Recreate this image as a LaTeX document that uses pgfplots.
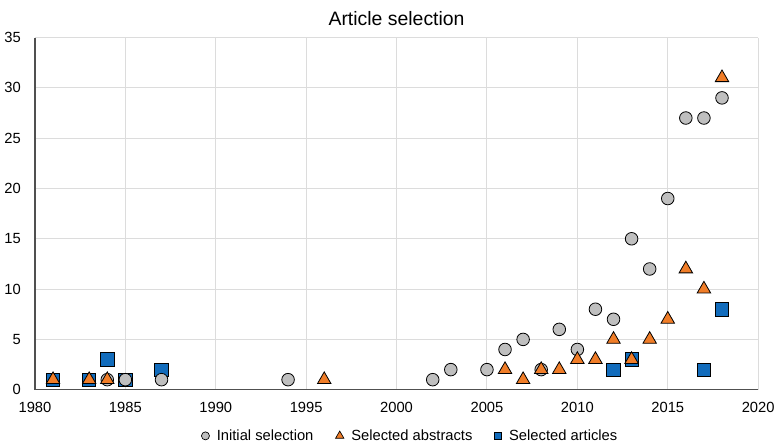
\documentclass[border=0pt]{standalone}
\usepackage{fontspec}
\setmainfont{Liberation Sans}
\usepackage{pgfplots}
\pgfplotsset{compat=1.18}

\definecolor{cinit}{RGB}{191,191,191}
\definecolor{cabs}{RGB}{240,125,40}
\definecolor{cart}{RGB}{18,108,188}
\definecolor{cgrid}{RGB}{220,220,220}
\definecolor{caxis}{RGB}{80,80,80}

\begin{document}
\begin{tikzpicture}
\begin{axis}[
    scale only axis,
    width=540pt, height=263pt,
    xmin=1980, xmax=2020,
    ymin=0, ymax=35,
    xtick={1980,1985,...,2020},
    ytick={0,5,...,35},
    /pgf/number format/assume math mode=true,
    /pgf/number format/1000 sep={},
    tick label style={font=\fontsize{11}{13}\selectfont, text=black},
    major tick length=0pt,
    xticklabel style={yshift=-6pt},
    yticklabel style={xshift=-7pt},
    axis x line*=bottom,
    axis y line*=left,
    axis line style={caxis, line width=1pt},
    grid=major,
    grid style={cgrid, line width=0.7pt},
    title={\rule{0pt}{16pt}Article selection},
    title style={font=\fontsize{14.5}{17}\selectfont, yshift=-1pt},
    legend style={at={(0.52,-0.097)}, anchor=north, draw=none, fill=none,
        font=\fontsize{11}{13}\selectfont, legend columns=3,
        nodes={inner xsep=2.5pt},
        /tikz/every even column/.append style={column sep=14pt}},
    legend cell align=left,
    clip=false,
]
\addlegendimage{only marks, mark=*, mark size=3pt, mark options={fill=cinit, draw=black, line width=0.5pt}}
\addlegendentry{\hspace{3pt}Initial selection}
\addlegendimage{only marks, mark=triangle*, mark size=3.6pt, mark options={fill=cabs, draw=black, line width=0.5pt}}
\addlegendentry{\hspace{3pt}Selected abstracts}
\addlegendimage{only marks, mark=square*, mark size=2.7pt, mark options={fill=cart, draw=black, line width=0.5pt}}
\addlegendentry{\hspace{3pt}Selected articles}

% Selected articles
\addplot[forget plot, only marks, mark=square*, mark size=5pt,
    mark options={fill=cart, draw=black, line width=0.6pt}]
    coordinates {
    (1981,1)(1983,1)(1984,3)(1985,1)(1987,2)(2012,2)(2013,3)(2017,2)(2018,8)
    };
% Initial selection
\addplot[forget plot, only marks, mark=*, mark size=4.7pt,
    mark options={fill=cinit, draw=black, line width=0.6pt}]
    coordinates {
    (1984,1)(1985,1)(1987,1)(1994,1)(2002,1)(2003,2)(2005,2)(2006,4)(2007,5)
    (2008,2)(2009,6)(2010,4)(2011,8)(2012,7)(2013,15)(2014,12)(2015,19)
    (2016,27)(2017,27)(2018,29)
    };
% Selected abstracts
\addplot[forget plot, only marks, mark=triangle*, mark size=5.8pt,
    mark options={fill=cabs, draw=black, line width=0.6pt}]
    coordinates {
    (1981,1)(1983,1)(1984,1)(1996,1)(2006,2)(2007,1)(2008,2)(2009,2)(2010,3)
    (2011,3)(2012,5)(2013,3)(2014,5)(2015,7)(2016,12)(2017,10)(2018,31)
    };
\end{axis}
\end{tikzpicture}
\end{document}
